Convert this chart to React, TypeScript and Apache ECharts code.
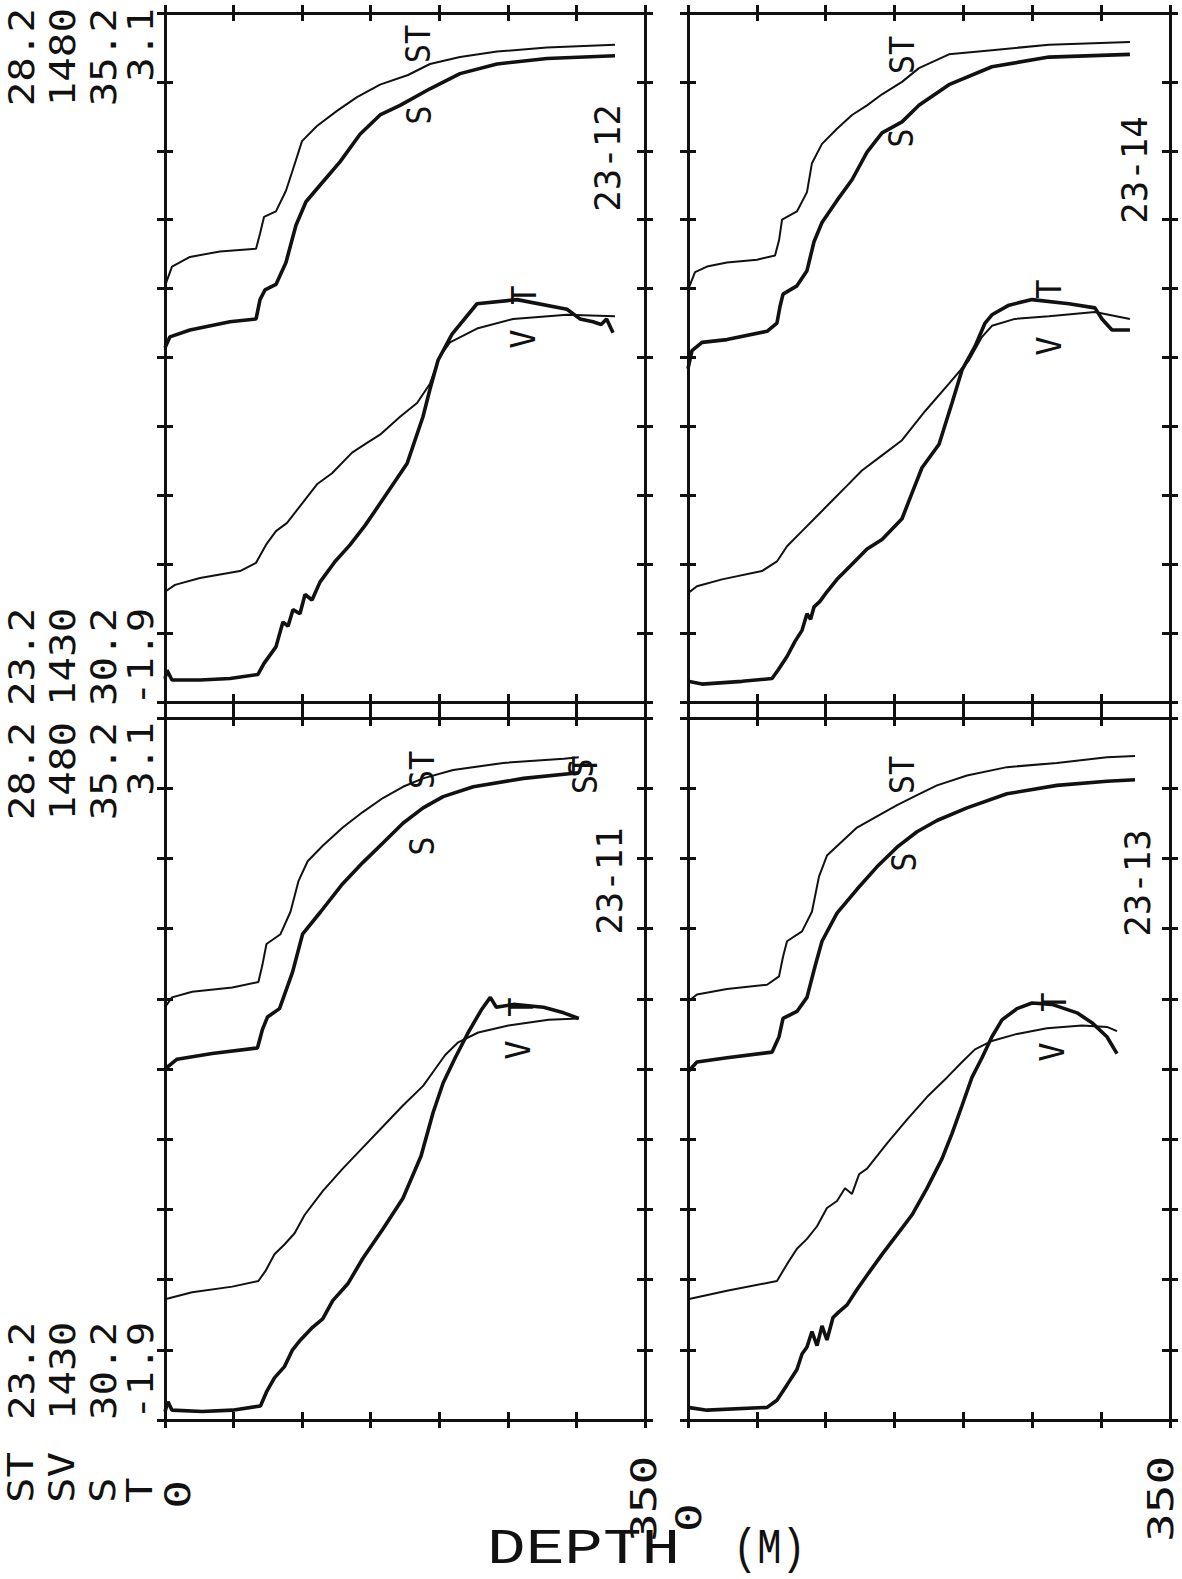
import React, { useEffect, useRef } from "react";
import * as echarts from "echarts";

// ---------- data ----------
const depthRange = [0, 350];
const depthTickStep = 50;
const stRange = [23.2, 28.2];
const svRange = [1430, 1480];
const sRange = [30.2, 35.2];
const tRange = [-1.9, 3.1];
const upperTickLabels = ["28.2", "1480", "35.2", "3.1"];
const lowerTickLabels = ["23.2", "1430", "30.2", "-1.9"];
const variableNames = ["ST", "SV", "S", "T"];
const depthLabels = ["0", "350"];
const depthTitle = "DEPTH";
const depthUnit = "(M)";
const stations = ["23-12", "23-14", "23-11", "23-13"];

// station 23-12
const st_23_12 = [[0,26.22],[5.1,26.36],[18.2,26.43],[40.1,26.47],[66.4,26.49],[69.3,26.60],[72.2,26.72],[80.9,26.76],[88.2,26.91],[94.1,27.09],[99.9,27.27],[110.8,27.38],[125.4,27.49],[140.0,27.59],[156.8,27.68],[177.2,27.75],[193.2,27.83],[215.1,27.88],[242.1,27.92],[278.5,27.95],[328.1,27.97]];
const s_23_12 = [[0,32.77],[3.6,32.85],[18.2,32.90],[47.4,32.96],[66.4,32.98],[69.3,33.12],[72.9,33.19],[80.9,33.23],[88.2,33.39],[95.5,33.66],[102.8,33.83],[113.0,33.95],[127.6,34.12],[142.2,34.32],[156.8,34.46],[171.4,34.53],[193.2,34.65],[215.1,34.76],[242.1,34.83],[278.5,34.87],[328.1,34.89]];
const sv_23_12 = [[0,1438.0],[7.3,1438.5],[25.5,1439.0],[54.7,1439.5],[66.4,1440.1],[73.6,1441.4],[80.9,1442.4],[89.0,1443.0],[99.9,1444.4],[110.8,1445.8],[121.8,1446.6],[136.4,1448.1],[147.3,1448.8],[156.8,1449.4],[171.4,1450.7],[183.8,1451.7],[193.2,1453.1],[200.5,1455.1],[207.8,1456.1],[227.5,1457.1],[253.8,1457.8],[293.1,1458.1],[328.1,1458.0]];
const t_23_12 = [[0,-1.73],[1.5,-1.67],[5.1,-1.74],[25.5,-1.74],[47.4,-1.73],[67.8,-1.70],[72.2,-1.62],[80.9,-1.50],[86.0,-1.32],[89.7,-1.35],[93.3,-1.23],[98.4,-1.26],[102.1,-1.12],[107.2,-1.16],[113.0,-1.03],[124.0,-0.88],[134.9,-0.76],[145.8,-0.62],[156.8,-0.46],[176.5,-0.17],[188.1,0.17],[193.2,0.37],[199.1,0.58],[209.3,0.77],[227.5,0.99],[256.7,1.02],[293.1,0.95],[302.6,0.88],[312.1,0.86],[318.0,0.84],[322.0,0.88],[326.7,0.78]];

// station 23-14
const st_23_14 = [[0,26.19],[5.1,26.32],[13.8,26.36],[28.3,26.39],[50.1,26.41],[63.2,26.44],[66.1,26.55],[68.3,26.70],[79.1,26.76],[86.4,26.90],[90.0,27.11],[97.3,27.25],[108.2,27.36],[119.1,27.46],[130.0,27.53],[140.9,27.61],[155.4,27.70],[167.7,27.80],[189.5,27.90],[220.7,27.93],[262.1,27.97],[320.9,27.99]];
const s_23_14 = [[0,32.62],[2.9,32.75],[10.2,32.81],[28.3,32.83],[57.4,32.89],[64.6,32.95],[66.8,33.07],[69.0,33.16],[79.1,33.22],[86.4,33.33],[91.5,33.54],[97.3,33.68],[108.2,33.84],[119.1,33.99],[130.0,34.19],[140.9,34.33],[155.4,34.41],[167.7,34.53],[189.5,34.68],[220.7,34.81],[262.1,34.88],[320.9,34.90]];
const sv_23_14 = [[0,1437.9],[6.5,1438.4],[24.7,1438.9],[53.7,1439.5],[64.6,1440.2],[71.9,1441.3],[82.8,1442.4],[93.7,1443.5],[104.6,1444.6],[115.5,1445.7],[126.3,1446.8],[140.9,1447.9],[155.4,1449.0],[172.1,1451.1],[189.5,1453.1],[204.0,1454.8],[213.5,1456.5],[220.7,1457.3],[237.4,1457.8],[262.1,1458.0],[295.5,1458.3],[320.9,1457.8]];
const t_23_14 = [[0,-1.75],[10.2,-1.77],[39.2,-1.75],[61.0,-1.73],[65.3,-1.67],[71.9,-1.57],[77.7,-1.46],[82.8,-1.38],[86.4,-1.26],[89.0,-1.30],[91.5,-1.21],[95.8,-1.17],[100.9,-1.10],[108.2,-1.01],[119.1,-0.90],[130.0,-0.79],[140.9,-0.72],[155.4,-0.57],[162.0,-0.40],[169.9,-0.20],[182.3,-0.03],[191.7,0.27],[199.0,0.51],[208.4,0.68],[215.7,0.85],[220.7,0.91],[233.1,0.98],[249.8,1.02],[276.6,0.99],[295.5,0.96],[300.6,0.88],[307.9,0.80],[320.9,0.80]];

// station 23-11
const st_23_11 = [[0,26.14],[5.1,26.21],[19.8,26.25],[49.1,26.28],[68.1,26.32],[71.0,26.44],[74.0,26.59],[84.2,26.66],[91.5,26.82],[97.4,27.04],[104.0,27.18],[115.0,27.29],[129.6,27.42],[144.2,27.53],[158.9,27.63],[173.5,27.71],[188.2,27.77],[210.1,27.83],[246.7,27.88],[290.7,27.91],[301.7,27.92]];
const s_23_11 = [[0,32.70],[8.8,32.77],[34.4,32.81],[67.4,32.85],[71.0,32.98],[74.7,33.07],[83.5,33.13],[93.0,33.39],[100.3,33.66],[113.5,33.82],[129.6,34.02],[144.2,34.17],[158.9,34.31],[173.5,34.45],[188.2,34.56],[202.8,34.64],[224.8,34.71],[261.4,34.77],[301.7,34.81]];
const sv_23_11 = [[0,1438.6],[19.8,1439.1],[49.1,1439.5],[68.1,1439.9],[73.2,1440.6],[79.8,1441.8],[87.1,1442.5],[94.5,1443.3],[101.8,1444.6],[115.0,1446.3],[129.6,1447.9],[144.2,1449.4],[158.9,1450.9],[173.5,1452.4],[188.2,1453.8],[197.0,1455.0],[204.3,1456.0],[213.8,1456.9],[228.4,1457.6],[250.4,1458.1],[279.7,1458.5],[301.7,1458.6]];
const t_23_11 = [[0,-1.84],[2.2,-1.77],[5.1,-1.83],[27.1,-1.84],[49.1,-1.83],[69.6,-1.80],[74.0,-1.70],[79.8,-1.60],[87.1,-1.52],[93.0,-1.40],[98.8,-1.33],[107.6,-1.24],[115.0,-1.18],[122.3,-1.05],[133.3,-0.93],[144.2,-0.75],[158.9,-0.54],[173.5,-0.32],[186.7,-0.02],[195.5,0.29],[202.8,0.50],[211.6,0.68],[221.1,0.86],[230.6,1.02],[237.2,1.11],[241.6,1.04],[254.1,1.06],[276.0,1.04],[290.7,1.00],[301.7,0.96]];

// station 23-13
const st_23_13 = [[0,26.18],[6.5,26.23],[28.3,26.27],[57.4,26.30],[66.1,26.36],[69.0,26.50],[71.9,26.61],[82.8,26.68],[90.0,26.82],[95.1,27.07],[100.9,27.22],[111.8,27.32],[122.7,27.42],[137.2,27.50],[151.8,27.58],[166.3,27.65],[180.8,27.72],[202.6,27.79],[231.6,27.85],[267.9,27.88],[304.2,27.92],[324.6,27.93]];
const s_23_13 = [[0,32.68],[6.5,32.75],[28.3,32.78],[61.0,32.82],[66.1,32.93],[69.0,33.06],[79.1,33.11],[86.4,33.21],[92.2,33.43],[97.3,33.61],[108.2,33.81],[122.7,33.98],[137.2,34.14],[151.8,34.28],[166.3,34.39],[180.8,34.47],[202.6,34.56],[231.6,34.66],[267.9,34.72],[304.2,34.75],[324.6,34.76]];
const sv_23_13 = [[0,1438.6],[28.3,1439.2],[64.6,1439.9],[71.9,1441.1],[79.1,1442.2],[86.4,1442.9],[93.7,1443.8],[100.9,1445.1],[108.2,1445.6],[114.0,1446.5],[119.1,1446.1],[124.2,1447.5],[130.0,1447.9],[144.5,1449.7],[159.0,1451.4],[173.5,1453.0],[188.1,1454.4],[199.0,1455.5],[208.4,1456.4],[220.7,1457.0],[238.9,1457.5],[260.7,1457.9],[286.1,1458.1],[304.2,1458.0],[311.5,1457.7]];
const t_23_13 = [[0,-1.81],[13.8,-1.83],[57.4,-1.81],[64.6,-1.76],[71.9,-1.65],[79.1,-1.54],[82.8,-1.43],[86.4,-1.38],[90.0,-1.27],[93.7,-1.37],[97.3,-1.23],[100.9,-1.33],[105.3,-1.17],[109.6,-1.13],[115.5,-1.08],[122.7,-0.97],[131.4,-0.85],[140.9,-0.72],[151.8,-0.58],[162.6,-0.44],[173.5,-0.25],[184.4,-0.04],[191.7,0.14],[199.0,0.34],[206.2,0.54],[213.5,0.68],[220.7,0.83],[228.0,0.95],[238.9,1.03],[249.8,1.07],[264.3,1.06],[282.5,1.00],[293.3,0.93],[304.2,0.83],[311.5,0.71]];

// ---------- layout ----------
const R = Math.PI / 2;
const MONO = "DejaVu Sans Mono";

type Panel = {
  station: string;
  rect: { left: number; top: number; width: number; height: number };
  st: number[][]; s: number[][]; sv: number[][]; t: number[][];
  stationPos: [number, number];
  labels: { text: string; x: number; y: number }[];
};

const panels: Panel[] = [
  {
    station: stations[0],
    rect: { left: 165, top: 13, width: 480, height: 689 },
    st: st_23_12, s: s_23_12, sv: sv_23_12, t: t_23_12,
    stationPos: [607, 158],
    labels: [
      { text: "ST", x: 419, y: 44 }, { text: "S", x: 420, y: 115 },
      { text: "T", x: 525, y: 295 }, { text: "V", x: 524, y: 339 },
    ],
  },
  {
    station: stations[1],
    rect: { left: 688, top: 13, width: 482, height: 689 },
    st: st_23_14, s: s_23_14, sv: sv_23_14, t: t_23_14,
    stationPos: [1134, 170],
    labels: [
      { text: "ST", x: 903, y: 55 }, { text: "S", x: 902, y: 138 },
      { text: "T", x: 1050, y: 289 }, { text: "V", x: 1050, y: 346 },
    ],
  },
  {
    station: stations[2],
    rect: { left: 165, top: 718, width: 480, height: 702 },
    st: st_23_11, s: s_23_11, sv: sv_23_11, t: t_23_11,
    stationPos: [609, 881],
    labels: [
      { text: "ST", x: 423, y: 770 }, { text: "S", x: 423, y: 846 },
      { text: "T", x: 522, y: 1007 }, { text: "V", x: 519, y: 1050 },
      { text: "ST", x: 586, y: 775 }, { text: "S", x: 582, y: 768 },
    ],
  },
  {
    station: stations[3],
    rect: { left: 688, top: 718, width: 482, height: 702 },
    st: st_23_13, s: s_23_13, sv: sv_23_13, t: t_23_13,
    stationPos: [1137, 883],
    labels: [
      { text: "ST", x: 903, y: 775 }, { text: "S", x: 905, y: 862 },
      { text: "T", x: 1055, y: 1002 }, { text: "V", x: 1053, y: 1052 },
    ],
  },
];

const lineCol = "#111";

function frameAxisX(gridIndex: number, position: string, inside: boolean) {
  return {
    gridIndex, type: "value", min: depthRange[0], max: depthRange[1], interval: depthTickStep,
    position,
    axisLine: { show: !inside, onZero: false, lineStyle: { color: lineCol, width: 3 } },
    axisTick: { show: true, inside, length: 8, lineStyle: { color: lineCol, width: 3 } },
    axisLabel: { show: false }, splitLine: { show: false },
  };
}
function frameAxisY(gridIndex: number, position: string, inside: boolean) {
  return {
    gridIndex, type: "value", min: 0, max: 10, interval: 1,
    position,
    axisLine: { show: !inside, onZero: false, lineStyle: { color: lineCol, width: 3 } },
    axisTick: { show: true, inside, length: 8, lineStyle: { color: lineCol, width: 3 } },
    axisLabel: { show: false }, splitLine: { show: false },
  };
}

function rotText(text: string, x: number, y: number, align: string, fontSize: number, scaleX = 1, scaleY = 1) {
  return {
    type: "text", x, y, rotation: R, scaleX, scaleY, silent: true,
    style: { text, fontFamily: MONO, fontSize, fill: lineCol, align, verticalAlign: "middle" },
  };
}

function buildOption() {
  const grid: any[] = [];
  const xAxis: any[] = [];
  const yAxis: any[] = [];
  const series: any[] = [];
  const graphic: any[] = [];
  const ranges = [stRange, sRange, svRange, tRange];

  panels.forEach((p, i) => {
    grid.push({ ...p.rect });
    const xBase = xAxis.length;
    xAxis.push(frameAxisX(i, "bottom", false), frameAxisX(i, "bottom", true), frameAxisX(i, "top", false), frameAxisX(i, "top", true));
    const yBase = yAxis.length;
    yAxis.push(frameAxisY(i, "left", false), frameAxisY(i, "left", true), frameAxisY(i, "right", false), frameAxisY(i, "right", true));
    ranges.forEach((r) => yAxis.push({ gridIndex: i, type: "value", min: r[0], max: r[1], show: false, position: "left" }));
    const curves = [
      { data: p.st, k: 0, w: 2 },
      { data: p.s, k: 1, w: 3.6 },
      { data: p.sv, k: 2, w: 2 },
      { data: p.t, k: 3, w: 3.6 },
    ];
    curves.forEach((c) =>
      series.push({
        type: "line", xAxisIndex: xBase, yAxisIndex: yBase + 4 + c.k, data: c.data,
        symbol: "none", silent: true, lineStyle: { color: lineCol, width: c.w }, z: 3,
      })
    );
    graphic.push(rotText(p.station, p.stationPos[0], p.stationPos[1], "center", 34, 1.05, 1.05));
    p.labels.forEach((l) => graphic.push(rotText(l.text, l.x, l.y, "center", 32, 1, 1.05)));
  });

  // value range labels in the left margin
  const cols = [21, 62, 103, 140];
  const rowTops = [8, 722];
  const rowBottoms = [706, 1420];
  for (let r = 0; r < 2; r++) {
    cols.forEach((cx, k) => {
      graphic.push(rotText(upperTickLabels[k], cx, rowTops[r], "right", 34, 1.2, 1.05));
      graphic.push(rotText(lowerTickLabels[k], cx, rowBottoms[r], "left", 34, 1.2, 1.05));
    });
  }
  // variable names
  cols.forEach((cx, k) => graphic.push(rotText(variableNames[k], cx, 1503, "left", 34, 1.25, 1.05)));
  // depth labels
  graphic.push(rotText(depthLabels[0], 178, 1480, "right", 33, 1.45, 1.05));
  graphic.push(rotText(depthLabels[1], 644, 1542, "left", 33, 1.45, 1.05));
  graphic.push(rotText(depthLabels[0], 689, 1532, "left", 33, 1.45, 1.05));
  graphic.push(rotText(depthLabels[1], 1161, 1542, "left", 33, 1.45, 1.05));
  // depth title (upright)
  graphic.push({
    type: "text", x: 487, y: 1550, scaleX: 1.4, scaleY: 1.08, silent: true,
    style: { text: depthTitle, fontFamily: "Liberation Mono", fontSize: 46, fill: lineCol, align: "left", verticalAlign: "middle" },
  });
  graphic.push({
    type: "text", x: 733, y: 1550, scaleX: 0.88, scaleY: 1.08, silent: true,
    style: { text: depthUnit, fontFamily: "Liberation Mono", fontSize: 46, fill: lineCol, align: "left", verticalAlign: "middle" },
  });

  return {
    animation: false,
    backgroundColor: "#ffffff",
    grid, xAxis, yAxis, series, graphic,
  };
}

export default function App() {
  const ref = useRef<HTMLDivElement>(null);
  useEffect(() => {
    if (!ref.current) return;
    const chart = echarts.init(ref.current, null, { renderer: "svg" });
    chart.setOption(buildOption() as any);
    return () => chart.dispose();
  }, []);
  return (
    <div
      ref={ref}
      style={{ position: "absolute", left: 0, top: 0, width: 1182, height: 1579, background: "#fff" }}
    />
  );
}
